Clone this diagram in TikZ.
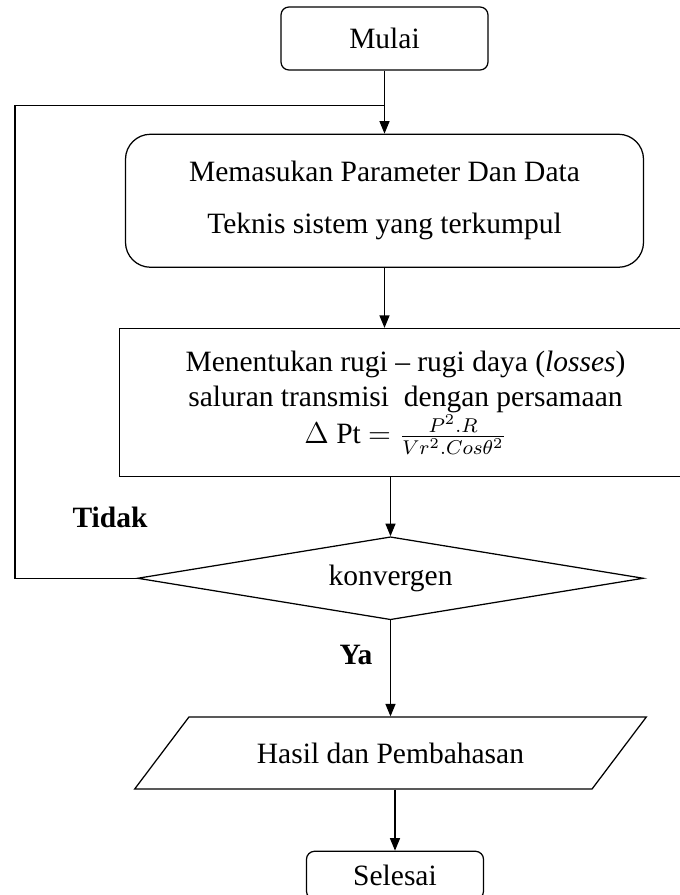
\documentclass[tikz,border=0pt]{standalone}
\usepackage{fontspec}
\setmainfont{Liberation Serif}
\usetikzlibrary{positioning,shapes.geometric,arrows.meta}

\begin{document}
\begin{tikzpicture}[
		x=0.4pt, y=-0.4pt
		,every node/.style={font=\fontsize{11.8}{14}\selectfont}
		,base/.style={draw, line width=.5pt, inner sep=0pt, align=center}
		,term/.style={base, rounded corners=3.2pt}
		,proc/.style={base}
		,dec/.style={base, diamond, aspect=6}
		,io/.style={base, trapezium, trapezium left angle=30, trapezium right angle=150, trapezium stretches=true}
		,lbl/.style={font=\fontsize{11.8}{14}\selectfont\bfseries}
		,arr/.style={line width=.5pt, -{Triangle[width=4pt,length=5pt]}}
		,line/.style={line width=.5pt}
	]
		\useasboundingbox (0,0) rectangle (680,895);

		\node[term, minimum width=82.8pt, minimum height=25.2pt] (M) at (384.5,38.5) {Mulai};
		\node[proc, rounded corners=10pt, minimum width=207.2pt, minimum height=53.2pt,
			font=\fontsize{11.8}{20.8}\selectfont, below=25.2pt of M] (P)
			{Memasukan Parameter Dan Data\\ Teknis sistem yang terkumpul};
		\node[proc, minimum width=228.8pt, minimum height=59.2pt,
			below=24pt of P, xshift=8.4pt] (H)
			{Menentukan rugi -- rugi daya (\textit{losses})\\
			saluran transmisi\ \ dengan persamaan\\[1pt]
			$\Delta$ Pt $= \frac{P^2.R}{Vr^2.Cos\theta^2}$};
		\node[dec, minimum width=202.4pt, minimum height=33.2pt,
			below=23.6pt of H, xshift=-6pt] (D) {konvergen};
		\node[io, minimum width=204.8pt, minimum height=28.8pt,
			below=38.4pt of D] (O) {Hasil dan Pembahasan};
		\node[term, minimum width=70.8pt, minimum height=19.2pt,
			below=24.4pt of O, xshift=1.8pt] (S) {Selesai};

		\coordinate[below=14pt of M.south] (J);
		\coordinate (E) at (15,0);

		\node[lbl] (T) at (110,517) {Tidak};
		\node[lbl] (Y) at (356,655) {Ya};

		\draw[arr] (M.south) -- (M.south |- P.north);
		\draw[arr] (P.south) -- (P.south |- H.north);
		\draw[arr] (D.north |- H.south) -- (D.north);
		\draw[arr] (D.south) -- (D.south |- O.north);
		\draw[arr] (S.north |- O.south) -- (S.north);
		\draw[line] (D.west) -- (D.west -| E) |- (J);
	\end{tikzpicture}
\end{document}
